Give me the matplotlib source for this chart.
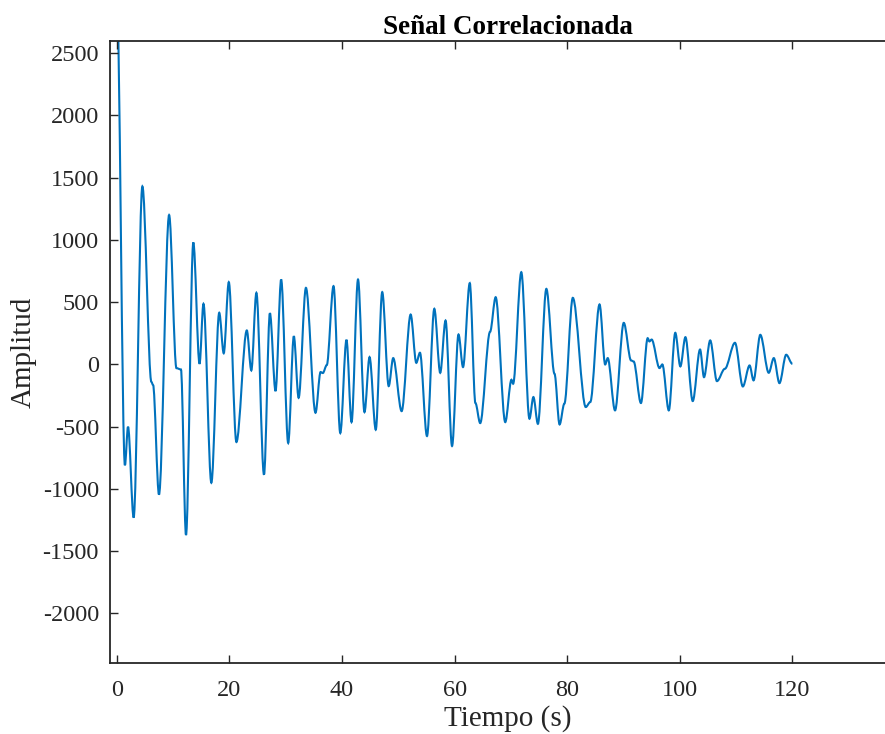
import matplotlib
matplotlib.use('Agg')
import matplotlib.pyplot as plt
from matplotlib.path import Path
from matplotlib.patches import PathPatch

# puntos (maximos, minimos y hombros de la senal)
tiempo = [0.0, 1.45, 2.0, 3.0, 4.55, 6.15, 6.45, 7.5, 9.3, 10.6, 11.4, 12.3,
          13.6, 14.7, 15.4, 16.8, 18.2, 19.0, 19.9, 21.25, 23.1, 23.9, 24.8,
          26.15, 27.2, 28.2, 29.2, 30.45, 31.45, 32.3, 33.6, 35.3, 36.2, 36.6,
          37.3, 38.5, 39.7, 40.8, 41.7, 42.85, 44.0, 44.9, 46.0, 47.15, 48.3,
          49.1, 50.6, 52.2, 53.2, 53.85, 55.1, 56.4, 57.45, 58.4, 59.55, 60.7,
          61.5, 62.7, 63.7, 64.55, 66.3, 67.3, 69.0, 70.1, 70.4, 71.85, 73.3,
          74.0, 74.8, 76.3, 77.75, 78.65, 79.5, 81.0, 83.3, 84.1, 85.75, 86.75,
          87.2, 88.5, 90.05, 91.35, 91.8, 93.1, 94.3, 94.6, 95.0, 96.4, 96.9,
          98.05, 99.2, 100.1, 101.0, 102.3, 103.6, 104.3, 105.4, 106.6, 108.0,
          109.8, 111.2, 112.4, 113.1, 114.3, 115.8, 116.7, 117.7, 118.9, 120.0]
amplitud = [3000, -810, -500, -1230, 1430, -140, -165, -1045, 1200, -30, -40,
            -1370, 980, 5, 487, -950, 415, 90, 661, -623, 273, -48, 575, -885,
            412, -214, 682, -631, 227, -268, 615, -388, -61, -69, -5, 629,
            -551, 198, -463, 682, -383, 59, -524, 581, -174, 51, -375, 401, 13,
            94, -575, 447, -67, 353, -655, 241, -21, 653, -310, -471, 262, 540,
            -463, -123, -155, 741, -436, -262, -477, 607, -75, -482, -315, 535,
            -342, -302, 482, 0, 51, -369, 334, 32, 24, -310, 211, 185, 200,
            -29, 0, -369, 254, -16, 219, -294, 120, -102, 193, -134, -35, 174,
            -177, -8, -128, 238, -67, 51, -150, 78, 5]

xticks = [0, 20, 40, 60, 80, 100, 120]
yticks = [-2000, -1500, -1000, -500, 0, 500, 1000, 1500, 2000, 2500]

azul = '#0072BD'
gris = '#262626'

plt.rcParams['font.family'] = ['Liberation Serif', 'DejaVu Serif']
plt.rcParams['axes.unicode_minus'] = False

fig = plt.figure(figsize=(8.85, 7.34), dpi=100)
ax = fig.add_axes([110 / 885, 70.7 / 734, 795 / 885, 622.6 / 734])

# curva suave entre extremos (tangente horizontal en cada punto)
verts = [(tiempo[0], amplitud[0])]
codes = [Path.MOVETO]
for i in range(1, len(tiempo)):
    t0, v0 = tiempo[i - 1], amplitud[i - 1]
    t1, v1 = tiempo[i], amplitud[i]
    d = (t1 - t0) / 3.0
    verts += [(t0 + d, v0), (t1 - d, v1), (t1, v1)]
    codes += [Path.CURVE4] * 3
linea = PathPatch(Path(verts, codes), facecolor='none', edgecolor=azul,
                  linewidth=1.5, transform=ax.transData, clip_on=True)
ax.add_patch(linea)

ax.set_xlim(-1.2, 140)
ax.set_ylim(-2400, 2600)
ax.set_xticks(xticks)
ax.set_yticks(yticks)
ax.tick_params(direction='in', length=6, width=1.0, top=True, right=True,
               labelsize=17.5, colors=gris)
ax.tick_params(axis='y', pad=8)
ax.tick_params(axis='x', pad=12)
for s in ax.spines.values():
    s.set_color(gris)
    s.set_linewidth(1.3)

ax.set_title('Señal Correlacionada', fontsize=19.5, fontweight='bold', pad=5)
ax.set_xlabel('Tiempo (s)', fontsize=21, color=gris, labelpad=3)
ax.set_ylabel('Amplitud', fontsize=21, color=gris, labelpad=4)

fig.savefig('out.png', dpi=100)
